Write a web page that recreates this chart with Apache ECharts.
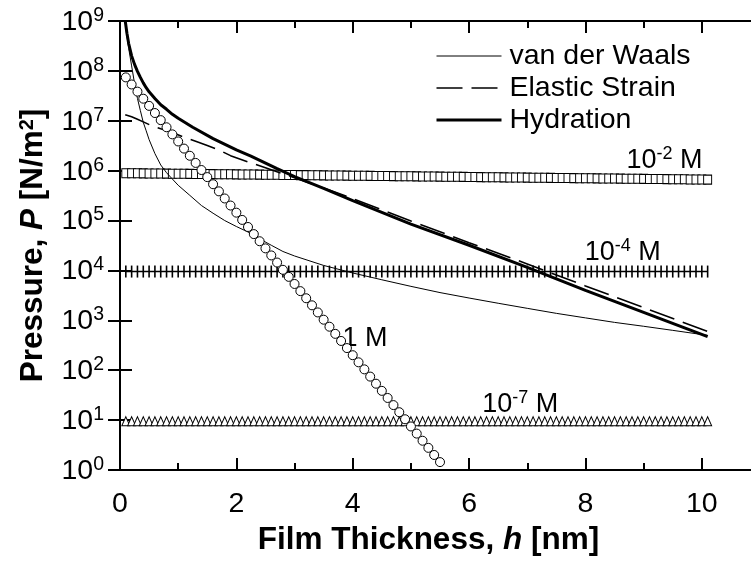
<!DOCTYPE html>
<html><head><meta charset="utf-8">
<script src="https://cdn.jsdelivr.net/npm/echarts@6/dist/echarts.min.js"></script>
<style>html,body{margin:0;padding:0;background:#fff}#c{width:751px;height:562px}</style>
</head><body><div id="c"></div>
<script>
// ---- data ----
const thickness = [
0.1,0.2,0.3,0.4,0.5,0.6,0.7,0.8,0.9,1.0,
1.1,1.2,1.3,1.4,1.5,1.6,1.7,1.8,1.9,2.0,
2.1,2.2,2.3,2.4,2.5,2.6,2.7,2.8,2.9,3.0,
3.1,3.2,3.3,3.4,3.5,3.6,3.7,3.8,3.9,4.0,
4.1,4.2,4.3,4.4,4.5,4.6,4.7,4.8,4.9,5.0,
5.1,5.2,5.3,5.4,5.5,5.6,5.7,5.8,5.9,6.0,
6.1,6.2,6.3,6.4,6.5,6.6,6.7,6.8,6.9,7.0,
7.1,7.2,7.3,7.4,7.5,7.6,7.7,7.8,7.9,8.0,
8.1,8.2,8.3,8.4,8.5,8.6,8.7,8.8,8.9,9.0,
9.1,9.2,9.3,9.4,9.5,9.6,9.7,9.8,9.9,10.0,
10.1];
const thickness1M = [
0.1,0.2,0.3,0.4,0.5,0.6,0.7,0.8,0.9,1.0,
1.1,1.2,1.3,1.4,1.5,1.6,1.7,1.8,1.9,2.0,
2.1,2.2,2.3,2.4,2.5,2.6,2.7,2.8,2.9,3.0,
3.1,3.2,3.3,3.4,3.5,3.6,3.7,3.8,3.9,4.0,
4.1,4.2,4.3,4.4,4.5,4.6,4.7,4.8,4.9,5.0,
5.1,5.2,5.3,5.4,5.5];
const pressure1M = [
7.41e7,5.34e7,3.84e7,2.77e7,1.99e7,1.43e7,1.03e7,7.41e6,5.34e6,3.85e6,
2.77e6,1.99e6,1.43e6,1.03e6,7.43e5,5.35e5,3.85e5,2.77e5,2.00e5,1.44e5,
1.03e5,7.43e4,5.35e4,3.85e4,2.77e4,2.00e4,1.44e4,1.03e4,7.44e3,5.36e3,
3.85e3,2.77e3,2.00e3,1.44e3,1.03e3,745,536,386,278,200,
144,104,74.5,53.7,38.6,27.8,20.0,14.4,10.4,7.46,
5.37,3.86,2.78,2.00,1.44];
const pressure1e2M = [
8.90e5,8.87e5,8.85e5,8.82e5,8.80e5,8.77e5,8.75e5,8.72e5,8.70e5,8.67e5,
8.65e5,8.62e5,8.60e5,8.57e5,8.55e5,8.52e5,8.50e5,8.47e5,8.45e5,8.42e5,
8.40e5,8.37e5,8.35e5,8.32e5,8.30e5,8.27e5,8.25e5,8.22e5,8.20e5,8.17e5,
8.15e5,8.13e5,8.10e5,8.08e5,8.05e5,8.03e5,8.00e5,7.98e5,7.96e5,7.93e5,
7.91e5,7.89e5,7.86e5,7.84e5,7.82e5,7.79e5,7.77e5,7.75e5,7.72e5,7.70e5,
7.68e5,7.66e5,7.63e5,7.61e5,7.59e5,7.57e5,7.54e5,7.52e5,7.50e5,7.48e5,
7.45e5,7.43e5,7.41e5,7.39e5,7.36e5,7.34e5,7.32e5,7.30e5,7.28e5,7.25e5,
7.23e5,7.21e5,7.19e5,7.17e5,7.15e5,7.13e5,7.10e5,7.08e5,7.06e5,7.04e5,
7.02e5,7.00e5,6.98e5,6.96e5,6.94e5,6.92e5,6.90e5,6.88e5,6.86e5,6.84e5,
6.82e5,6.80e5,6.78e5,6.76e5,6.74e5,6.72e5,6.70e5,6.68e5,6.66e5,6.64e5,
6.62e5];
const pressure1e4M = [
9.5e3,9.5e3,9.5e3,9.5e3,9.5e3,9.5e3,9.5e3,9.5e3,9.5e3,9.5e3,
9.5e3,9.5e3,9.5e3,9.5e3,9.5e3,9.5e3,9.5e3,9.5e3,9.5e3,9.5e3,
9.5e3,9.5e3,9.5e3,9.5e3,9.5e3,9.5e3,9.5e3,9.5e3,9.5e3,9.5e3,
9.5e3,9.5e3,9.5e3,9.5e3,9.5e3,9.5e3,9.5e3,9.5e3,9.5e3,9.5e3,
9.5e3,9.5e3,9.5e3,9.5e3,9.5e3,9.5e3,9.5e3,9.5e3,9.5e3,9.5e3,
9.5e3,9.5e3,9.5e3,9.5e3,9.5e3,9.5e3,9.5e3,9.5e3,9.5e3,9.5e3,
9.5e3,9.5e3,9.5e3,9.5e3,9.5e3,9.5e3,9.5e3,9.5e3,9.5e3,9.5e3,
9.5e3,9.5e3,9.5e3,9.5e3,9.5e3,9.5e3,9.5e3,9.5e3,9.5e3,9.5e3,
9.5e3,9.5e3,9.5e3,9.5e3,9.5e3,9.5e3,9.5e3,9.5e3,9.5e3,9.5e3,
9.5e3,9.5e3,9.5e3,9.5e3,9.5e3,9.5e3,9.5e3,9.5e3,9.5e3,9.5e3,
9.5e3];
const pressure1e7M = [
9.5,9.5,9.5,9.5,9.5,9.5,9.5,9.5,9.5,9.5,
9.5,9.5,9.5,9.5,9.5,9.5,9.5,9.5,9.5,9.5,
9.5,9.5,9.5,9.5,9.5,9.5,9.5,9.5,9.5,9.5,
9.5,9.5,9.5,9.5,9.5,9.5,9.5,9.5,9.5,9.5,
9.5,9.5,9.5,9.5,9.5,9.5,9.5,9.5,9.5,9.5,
9.5,9.5,9.5,9.5,9.5,9.5,9.5,9.5,9.5,9.5,
9.5,9.5,9.5,9.5,9.5,9.5,9.5,9.5,9.5,9.5,
9.5,9.5,9.5,9.5,9.5,9.5,9.5,9.5,9.5,9.5,
9.5,9.5,9.5,9.5,9.5,9.5,9.5,9.5,9.5,9.5,
9.5,9.5,9.5,9.5,9.5,9.5,9.5,9.5,9.5,9.5,
9.5];
const vdwH = [0.1,0.15,0.2,0.25,0.3,0.35,0.4,0.45,0.5,0.6,0.7,0.8,0.9,1.0,1.2,1.4,1.6,1.8,2.0,2.2,2.4,2.6,2.8,3.0,3.5,4.0,4.5,5.0,5.5,6.0,6.5,7.0,7.5,8.0,8.5,9.0,9.5,10.1];
const vdwP = [7.1e8,2.8e8,1.26e8,5.6e7,2.8e7,1.6e7,9.3e6,6.3e6,4.2e6,2.2e6,1.3e6,9.1e5,6.8e5,5.1e5,3.2e5,2.0e5,1.4e5,1.0e5,7.6e4,5.9e4,4.3e4,3.2e4,2.4e4,1.95e4,1.26e4,8.9e3,6.5e3,4.8e3,3.6e3,2.8e3,2.2e3,1.74e3,1.38e3,1.12e3,910,760,630,500];
const elasticH = [0.09,0.2,0.3,0.4,0.55,0.7,0.9,1.1,1.3,1.5,1.7,1.9,2.2,2.5,3.0,3.5,4.0,5.0,6.0,7.0,8.0,9.0,10.1];
const elasticP = [1.32e7,1.2e7,1.07e7,9.5e6,7.9e6,6.9e6,5.8e6,4.7e6,3.9e6,3.2e6,2.6e6,2.0e6,1.5e6,1.15e6,7.2e5,4.5e5,2.75e5,9.8e4,3.6e4,1.35e4,4.9e3,1.8e3,600];
const hydrationH = [0.09,0.12,0.15,0.2,0.25,0.3,0.35,0.4,0.45,0.5,0.6,0.7,0.8,0.9,1.0,1.25,1.6,2.0,2.25,2.7,3.0,3.5,4.0,5.0,6.0,7.0,8.0,9.0,10.1];
const hydrationP = [1.0e9,5.6e8,3.5e8,2.0e8,1.35e8,9.8e7,7.4e7,5.75e7,4.6e7,3.8e7,2.8e7,2.1e7,1.7e7,1.35e7,1.12e7,7.4e6,4.4e6,2.6e6,1.95e6,1.1e6,7.6e5,4.4e5,2.5e5,8.5e4,3.2e4,1.15e4,4.0e3,1.45e3,470];
const annotationText = ['{b|10}{s|-2}{b| M}','{b|10}{s|-4}{b| M}','{b|1 M}','{b|10}{s|-7}{b| M}'];
const annotationH = [9.36,8.64,4.21,6.88];
const annotationP = [1.66e6,2.4e4,457,21.9];
const xTicks = [0,2,4,6,8,10];
const legendNames = ['van der Waals','Elastic Strain','Hydration'];

// ---- chart ----
const FONT = 'Liberation Sans, Arial, Helvetica, sans-serif';
const pairs = (xs, ys) => xs.map((x, i) => [x, ys[i]]);
const chart = echarts.init(document.getElementById('c'), null, {renderer: 'canvas'});
const axisLineStyle = {color: '#000', width: 2};
const lineStyles = {
  'van der Waals': {color: '#000', width: 1},
  'Elastic Strain': {color: '#000', width: 1.6, type: [26, 9]},
  'Hydration': {color: '#000', width: 3}
};
const baseX = {type: 'value', min: 0, max: 11, splitLine: {show: false}};
const baseY = {type: 'log', logBase: 10, min: 1, max: 1e9, interval: 1, splitNumber: 9, splitLine: {show: false}};
const option = {
  backgroundColor: '#fff',
  animation: false,
  grid: {left: 120, right: -9, top: 21, bottom: 92, containLabel: false, outerBoundsMode: 'none'},
  legend: {
    data: legendNames.map(n => ({name: n, lineStyle: lineStyles[n], itemStyle: {opacity: 0, borderWidth: 0}})),
    orient: 'vertical', left: 430, top: 36, itemWidth: 65, itemHeight: 14, itemGap: 2,
    itemStyle: {opacity: 0, borderWidth: 0},
    textStyle: {fontFamily: FONT, fontSize: 28.5, color: '#000', lineHeight: 30, padding: [0, 0, 0, 3]},
    inactiveColor: '#000', selectedMode: false
  },
  xAxis: [
    Object.assign({}, baseX, {
      position: 'bottom', interval: 2,
      axisLine: {lineStyle: axisLineStyle},
      axisTick: {inside: true, length: 12, lineStyle: {color: '#000', width: 2}},
      axisLabel: {fontFamily: FONT, fontSize: 28.5, color: '#000', margin: 20,
        formatter: v => xTicks.indexOf(v) >= 0 ? String(v) : ''},
      name: 'Film Thickness, {i|h} [nm]', nameLocation: 'middle', nameGap: 54,
      nameTextStyle: {fontFamily: FONT, fontSize: 31.5, fontWeight: 'bold', color: '#000', padding: [0, 23, 0, 0],
        rich: {i: {fontFamily: FONT, fontSize: 31.5, fontWeight: 'bold', fontStyle: 'italic', color: '#000'}}}
    }),
    Object.assign({}, baseX, {
      position: 'bottom', interval: 1,
      axisLine: {show: false},
      axisTick: {inside: true, length: 7, lineStyle: {color: '#000', width: 2}},
      axisLabel: {show: false}
    }),
    Object.assign({}, baseX, {
      position: 'top', interval: 2,
      axisLine: {lineStyle: axisLineStyle},
      axisTick: {inside: true, length: 12, lineStyle: {color: '#000', width: 2}},
      axisLabel: {show: false}
    }),
    Object.assign({}, baseX, {
      position: 'top', interval: 1,
      axisLine: {show: false},
      axisTick: {inside: true, length: 7, lineStyle: {color: '#000', width: 2}},
      axisLabel: {show: false}
    })
  ],
  yAxis: [
    Object.assign({}, baseY, {
      position: 'left',
      axisLine: {lineStyle: axisLineStyle},
      axisTick: {inside: true, length: 12, lineStyle: {color: '#000', width: 2}},
      axisLabel: {
        margin: 16, fontFamily: FONT, fontSize: 28.5, color: '#000',
        formatter: v => '{b|10}{s|' + Math.round(Math.log10(v)) + '}',
        rich: {
          b: {fontFamily: FONT, fontSize: 28.5, color: '#000', verticalAlign: 'top', padding: [2, 0, 0, 0]},
          s: {fontFamily: FONT, fontSize: 19.5, color: '#000', verticalAlign: 'top'}
        }
      },
      name: 'Pressure, {i|P} [N/m{s|2}]', nameLocation: 'middle', nameGap: 71,
      nameTextStyle: {fontFamily: FONT, fontSize: 31.5, fontWeight: 'bold', color: '#000',
        rich: {
          i: {fontFamily: FONT, fontSize: 31.5, fontWeight: 'bold', fontStyle: 'italic', color: '#000', verticalAlign: 'bottom'},
          s: {fontFamily: FONT, fontSize: 20, fontWeight: 'bold', color: '#000', verticalAlign: 'top'}
        }}
    }),
    Object.assign({}, baseY, {
      position: 'right',
      axisLine: {lineStyle: axisLineStyle},
      axisTick: {inside: true, length: 12, lineStyle: {color: '#000', width: 2}},
      axisLabel: {show: false}
    })
  ],
  series: [
    {
      name: '1e-2 M', type: 'scatter', z: 2, silent: true,
      data: pairs(thickness, pressure1e2M),
      symbol: 'rect', symbolSize: [8, 9],
      itemStyle: {color: '#fff', borderColor: '#000', borderWidth: 1, opacity: 1}
    },
    {
      name: '1e-4 M', type: 'line', z: 2, silent: true,
      data: pairs(thickness, pressure1e4M),
      symbol: 'rect', symbolSize: [1.6, 12], showAllSymbol: true,
      itemStyle: {color: '#000', opacity: 1},
      lineStyle: {color: '#000', width: 1.5}
    },
    {
      name: '1e-7 M', type: 'scatter', z: 2, silent: true,
      data: pairs(thickness, pressure1e7M),
      symbol: 'triangle', symbolSize: [8, 9],
      itemStyle: {color: '#fff', borderColor: '#000', borderWidth: 1, opacity: 1}
    },
    {
      name: 'van der Waals', type: 'line', z: 3, silent: true, symbol: 'none',
      data: pairs(vdwH, vdwP),
      lineStyle: lineStyles['van der Waals'],
      itemStyle: {color: '#000'}
    },
    {
      name: 'Elastic Strain', type: 'line', z: 3, silent: true, symbol: 'none',
      data: pairs(elasticH, elasticP),
      lineStyle: lineStyles['Elastic Strain'],
      itemStyle: {color: '#000'}
    },
    {
      name: 'Hydration', type: 'line', z: 3, silent: true, symbol: 'none',
      data: pairs(hydrationH, hydrationP),
      lineStyle: lineStyles['Hydration'],
      itemStyle: {color: '#000'}
    },
    {
      name: 'labels', type: 'scatter', z: 4, silent: true,
      data: annotationH.map((h, i) => ({value: [h, annotationP[i]], label: {formatter: annotationText[i]}})),
      symbolSize: 1, itemStyle: {color: 'rgba(0,0,0,0)', opacity: 1},
      label: {show: true, position: 'inside', color: '#000', opacity: 1,
        rich: {
          b: {fontFamily: FONT, fontSize: 27, color: '#000', verticalAlign: 'top', padding: [2, 0, 0, 0]},
          s: {fontFamily: FONT, fontSize: 18, color: '#000', verticalAlign: 'top'}
        }}
    },
    {
      name: '1 M', type: 'scatter', z: 5, silent: true,
      data: pairs(thickness1M, pressure1M),
      symbol: 'circle', symbolSize: 9,
      itemStyle: {color: '#fff', borderColor: '#000', borderWidth: 1, opacity: 1}
    }
  ]
};
chart.setOption(option);
</script>
</body></html>
